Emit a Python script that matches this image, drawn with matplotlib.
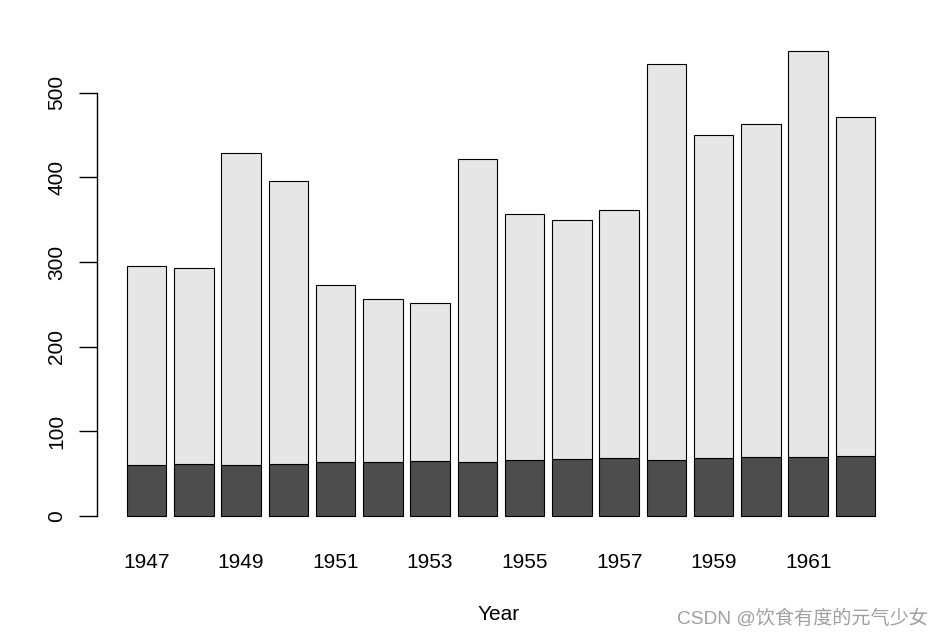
import numpy as np
import matplotlib.pyplot as plt

plt.rcParams['font.family'] = ['Liberation Sans', 'Noto Sans CJK SC', 'DejaVu Sans']

# Longley data: employed (bottom) and unemployed (top) stacked
years = list(range(1947, 1963))
employed = [60.323, 61.122, 60.171, 61.187, 63.221, 63.639, 64.989, 63.761,
            66.019, 67.857, 68.169, 66.513, 68.655, 69.564, 69.331, 70.551]
unemployed = [235.6, 232.5, 368.2, 335.1, 209.9, 193.2, 187.0, 357.8,
              290.4, 282.2, 293.6, 468.1, 381.3, 393.1, 480.6, 400.7]
yticks = [0, 100, 200, 300, 400, 500]

W, H = 943, 639
fig = plt.figure(figsize=(W / 100, H / 100), dpi=100)

# R barplot layout: width 1, space 0.2, 4% axis extension
x = 0.2 + 1.2 * np.arange(len(years)) + 0.5
xl, xr = 0.2, x[-1] + 0.5
xpad = 0.04 * (xr - xl)
top = max(e + u for e, u in zip(employed, unemployed))

ax = fig.add_axes([97 / W, (H - 534.6) / H, (905 - 97) / W, (534.6 - 32) / H])
ax.bar(x, employed, width=1, color='#4D4D4D', edgecolor='black', linewidth=0.8)
ax.bar(x, unemployed, width=1, bottom=employed, color='#E6E6E6',
       edgecolor='black', linewidth=0.8)
ax.set_xlim(xl - xpad, xr + xpad)
ax.set_ylim(-0.04 * top, 1.04 * top)

for s in ['top', 'right', 'bottom']:
    ax.spines[s].set_visible(False)
ax.spines['left'].set_bounds(0, 500)
ax.spines['left'].set_linewidth(1)
ax.set_yticks(yticks)
ax.set_yticklabels([str(v) for v in yticks], rotation=90, va='center', fontsize=15)
ax.tick_params(axis='y', length=13, width=1, pad=9)

ax.set_xticks(x[::2])
ax.set_xticklabels([str(y) for y in years[::2]], fontsize=15)
ax.tick_params(axis='x', length=0, pad=13)

fig.text(499 / W, 1 - 614 / H, 'Year', ha='center', va='center', fontsize=15)
fig.text(928 / W, 1 - 619 / H, 'CSDN @饮食有度的元气少女', ha='right', va='center',
         fontsize=13.8, color='#a0a0a0')

fig.savefig('out.png', dpi=100)
